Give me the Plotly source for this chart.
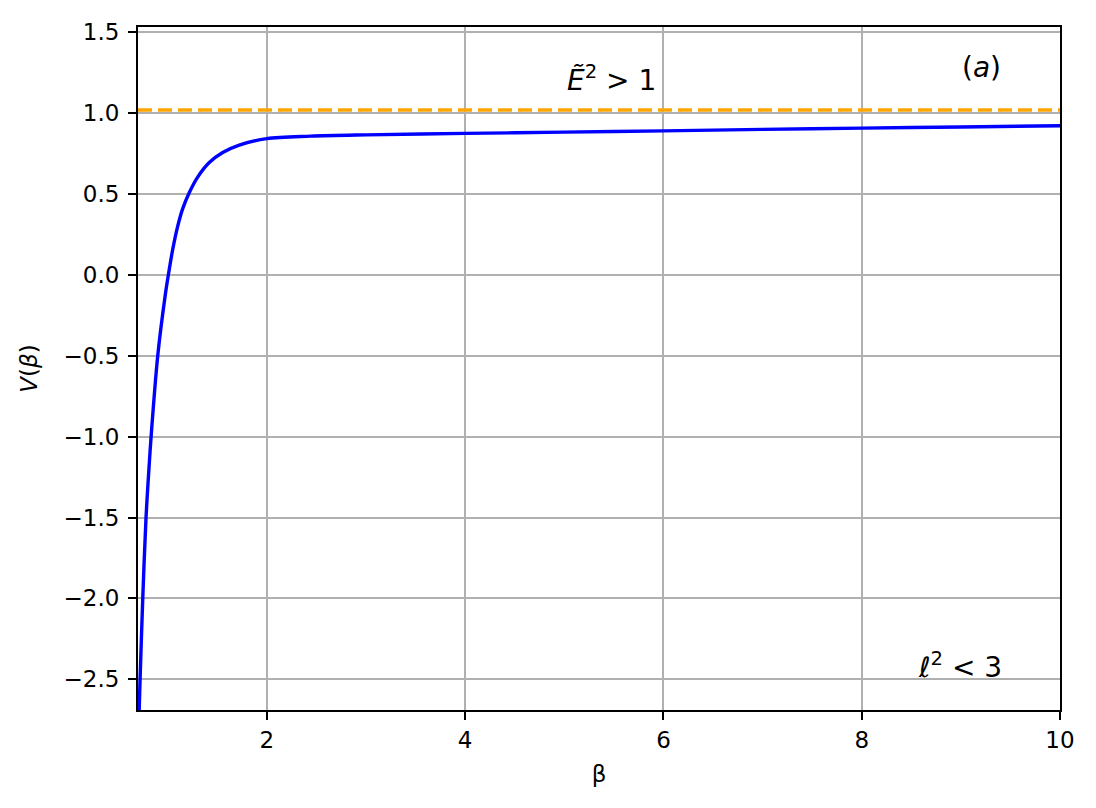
import plotly.graph_objects as go

# ==========================================================
# DATA
# ==========================================================

beta = [0.712, 0.721, 0.748, 0.781, 0.815, 0.832, 0.899, 0.976, 1.006,
        1.050, 1.100, 1.151, 1.218, 1.302, 1.419, 1.554, 1.721, 2.0,
        2.44, 3.0, 4.0, 5.0, 6.0, 7.0, 8.0, 9.0, 10.0]
potential = [-2.69, -2.5, -2.0, -1.5, -1.155, -1.0, -0.5, -0.12, 0.0,
             0.157, 0.30, 0.41, 0.51, 0.605, 0.695, 0.757, 0.803, 0.843,
             0.858, 0.866, 0.875, 0.883, 0.891, 0.90, 0.908, 0.915, 0.922]

energy_level = 1.02

x_ticks = [2, 4, 6, 8, 10]
y_ticks = [-2.5, -2.0, -1.5, -1.0, -0.5, 0.0, 0.5, 1.0, 1.5]

FONT = "DejaVu Sans"

# ==========================================================
# FIGURE
# ==========================================================

fig = go.Figure()

fig.add_trace(go.Scatter(
    x=beta,
    y=potential,
    mode="lines",
    line=dict(color="#0000ff", width=3.4, shape="spline", smoothing=0.9),
    showlegend=False
))

fig.add_hline(
    y=energy_level,
    line=dict(color="#ffa500", width=3.4, dash="14px,6px"),
    layer="above"
)

# annotations
fig.add_annotation(x=5.48, y=1.217, text="<i>Ẽ</i><sup>2</sup> &gt; 1",
                   showarrow=False, font=dict(family=FONT, size=28, color="black"))
fig.add_annotation(x=9.205, y=1.284, text="(<i>a</i>)",
                   showarrow=False, font=dict(family=FONT, size=28, color="black"))
fig.add_annotation(x=8.99, y=-2.412, text="ℓ<sup>2</sup> &lt; 3",
                   showarrow=False, font=dict(family=FONT, size=28, color="black"))

axis_style = dict(
    showline=True,
    linecolor="black",
    linewidth=1.9,
    mirror=True,
    ticks="outside",
    ticklen=8,
    tickwidth=1.9,
    tickcolor="black",
    showgrid=True,
    gridcolor="#b0b0b0",
    gridwidth=1.9,
    zeroline=False,
    tickfont=dict(family=FONT, size=23, color="black"),
)

fig.update_xaxes(
    range=[0.7, 10.0],
    tickvals=x_ticks,
    title=dict(text="β", font=dict(family=FONT, size=23, color="black"), standoff=14),
    **axis_style
)

fig.update_yaxes(
    range=[-2.69, 1.533],
    tickvals=y_ticks,
    tickformat=".1f",
    ticklabelstandoff=4,
    title=dict(text="<i>V</i>(<i>β</i>)", font=dict(family=FONT, size=23, color="black"),
               standoff=20),
    **axis_style
)

# page body adds 8px margin, keep the whole page inside 1096x808
fig.update_layout(
    width=1080,
    height=792,
    margin=dict(l=130, r=28, t=11, b=90),
    plot_bgcolor="white",
    paper_bgcolor="white",
)

fig.write_html("out.html")
